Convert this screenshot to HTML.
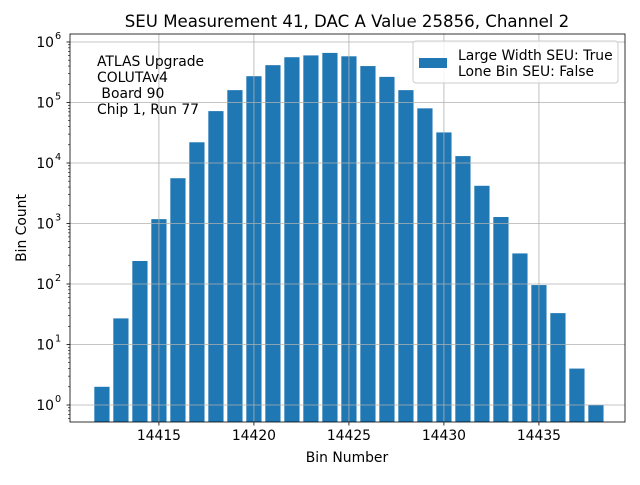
<!DOCTYPE html>
<html><head><meta charset="utf-8"><style>
body{margin:0;background:#fff;font-family:"Liberation Sans","DejaVu Sans",sans-serif}
svg text{font-family:"DejaVu Sans","Liberation Sans",sans-serif}
</style></head><body>
<svg id="chart" width="640" height="480" viewBox="0 0 640 480" xmlns="http://www.w3.org/2000/svg">
<rect width="640" height="480" fill="#fff"/>
<g id="bars"></g><g id="grid"></g><g id="axes"></g>
<text x="347" y="27" font-size="16.6" text-anchor="middle">SEU Measurement 41, DAC A Value 25856, Channel 2</text>
<text x="347" y="462" font-size="13.9" text-anchor="middle">Bin Number</text>
<text transform="translate(26,228) rotate(-90)" font-size="13.9" text-anchor="middle">Bin Count</text>
<g font-size="13.9">
<text x="97" y="66">ATLAS Upgrade</text>
<text x="97" y="82">COLUTAv4</text>
<text x="97" y="98">&#160;Board 90</text>
<text x="97" y="114">Chip 1, Run 77</text>
</g>
<g>
<rect x="413" y="41" width="205" height="42" rx="3" fill="#fff" fill-opacity="0.8" stroke="#ccc"/>
<rect x="419" y="58" width="28" height="10" fill="#1f77b4"/>
<text x="458" y="60" font-size="13.9">Large Width SEU: True</text>
<text x="458" y="76" font-size="13.9">Lone Bin SEU: False</text>
</g>
</svg>
<script>
const bins=[14412,14413,14414,14415,14416,14417,14418,14419,14420,14421,14422,14423,14424,14425,14426,14427,14428,14429,14430,14431,14432,14433,14434,14435,14436,14437,14438];
const counts=[2,27,240,1180,5600,22000,72000,160000,272000,414000,560000,600000,660000,580000,400000,265000,160000,80000,32000,13000,4200,1280,320,96,33,4,1];
const xTicks=[14415,14420,14425,14430,14435];
const yExps=[0,1,2,3,4,5,6];
const L=70,R=625,T=34,B=422,xMin=14410.32,xMax=14439.53,lMin=-0.281,lMax=6.132;
const NS="http://www.w3.org/2000/svg";
const xs=v=>L+(v-xMin)/(xMax-xMin)*(R-L);
const ys=v=>B-(Math.log10(v)-lMin)/(lMax-lMin)*(B-T);
function mk(t,a,p){const e=document.createElementNS(NS,t);for(const k in a)e.setAttribute(k,a[k]);p.appendChild(e);return e;}
const grid=document.getElementById('grid'),bars=document.getElementById('bars'),axes=document.getElementById('axes');
bins.forEach((b,i)=>{
 const x0=xs(b-0.4),x1=xs(b+0.4),y=ys(counts[i]);
 const r=mk('rect',{x:x0,y:y,width:x1-x0,height:B-y,fill:'#1f77b4'},bars);
 
 
});
xTicks.forEach(t=>{
 const x=xs(t);
 mk('line',{x1:x,x2:x,y1:T,y2:B,stroke:'#b0b0b0','stroke-width':0.8},grid);
 mk('line',{x1:x,x2:x,y1:B,y2:B+3.5,stroke:'#000','stroke-width':0.8},axes);
 const tx=mk('text',{x:x,y:B+18,'font-size':13.9,'text-anchor':'middle'},axes);tx.textContent=t;
 
 
});
yExps.forEach(e=>{
 const y=ys(Math.pow(10,e));
 mk('line',{x1:L,x2:R,y1:y,y2:y,stroke:'#b0b0b0','stroke-width':0.8},grid);
 mk('line',{x1:L-3.5,x2:L,y1:y,y2:y,stroke:'#000','stroke-width':0.8},axes);
 const tx=mk('text',{x:L-16,y:y+5,'font-size':13.9,'text-anchor':'end'},axes);tx.textContent='10';
 
 
 const s=mk('text',{x:L-15,y:y-3,'font-size':9.7},axes);s.textContent=e;
 for(let k=2;k<10;k++){const v=k*Math.pow(10,e);if(Math.log10(v)<lMax){const yy=ys(v);mk('line',{x1:L-2,x2:L,y1:yy,y2:yy,stroke:'#000','stroke-width':0.6},axes);}}
});
[0.6,0.7,0.8,0.9].forEach(v=>{const yy=ys(v);mk('line',{x1:L-2,x2:L,y1:yy,y2:yy,stroke:'#000','stroke-width':0.6},axes);});
mk('rect',{x:L,y:T,width:R-L,height:B-T,fill:'none',stroke:'#000','stroke-width':0.8},axes);
</script>
</body></html>
